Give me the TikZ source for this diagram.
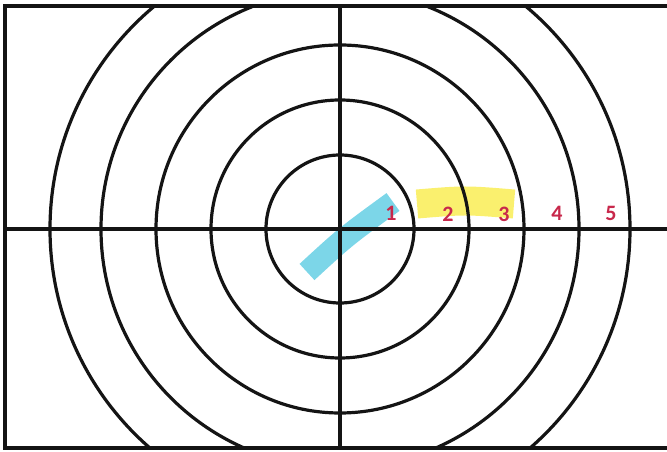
\documentclass[tikz,border=0pt]{standalone}
\usepackage{fontspec}
\setmainfont{Carlito}
\usepackage{tikz}
\usetikzlibrary{positioning}
\definecolor{RingLine}{RGB}{20,20,20}
\definecolor{RingLabel}{RGB}{200,40,75}
\definecolor{MarkCyan}{RGB}{110,210,230}
\definecolor{MarkYellow}{RGB}{250,240,110}

\begin{document}
\begin{tikzpicture}[x=1pt, y=1pt,
    ring/.style={draw=RingLine, line width=3.2pt},
    axis/.style={draw=RingLine, line width=3.2pt},
    frameline/.style={draw=RingLine, line width=3.6pt},
    ringlabel/.style={font=\fontsize{22}{22}\selectfont\bfseries, text=RingLabel, inner sep=0pt},
    marker/.style={line width=#1, line cap=butt},
]
\useasboundingbox (0,0) rectangle (667,452);
\coordinate (centre) at (340,223);

% highlighter strokes
\draw[marker=22pt, draw=MarkCyan, opacity=0.9] (307,180) .. controls (345,215) .. (393,250);
\draw[marker=29pt, draw=MarkYellow] (417,248) .. controls (465,252) .. (514,248);

% rings, clipped to the sheet
\begin{scope}
  \clip (5,4) rectangle (667,446);
  \foreach \r in {74,129,184,239,290}
    \draw[ring] (centre) circle (\r);
\end{scope}

% axes
\coordinate (west) at (5,223);
\coordinate (east) at (667,223);
\coordinate (north) at (340,446);
\coordinate (south) at (340,4);
\draw[axis] (west) -- (east);
\draw[axis] (north) -- (south);

% sheet edges
\coordinate (topleft) at (5,446);
\coordinate (topright) at (667,446);
\coordinate (botleft) at (5,4);
\coordinate (botright) at (667,4);
\draw[frameline] (topright) -- (topleft) -- (botleft) -- (botright);

% ring numbers
\node[ringlabel] (lab1) at (391,239) {1};
\node[ringlabel] (lab2) at (448,238) {2};
\node[ringlabel] (lab3) at (504,238) {3};
\node[ringlabel] (lab4) at (557,239) {4};
\node[ringlabel] (lab5) at (611,239) {5};
\end{tikzpicture}
\end{document}
